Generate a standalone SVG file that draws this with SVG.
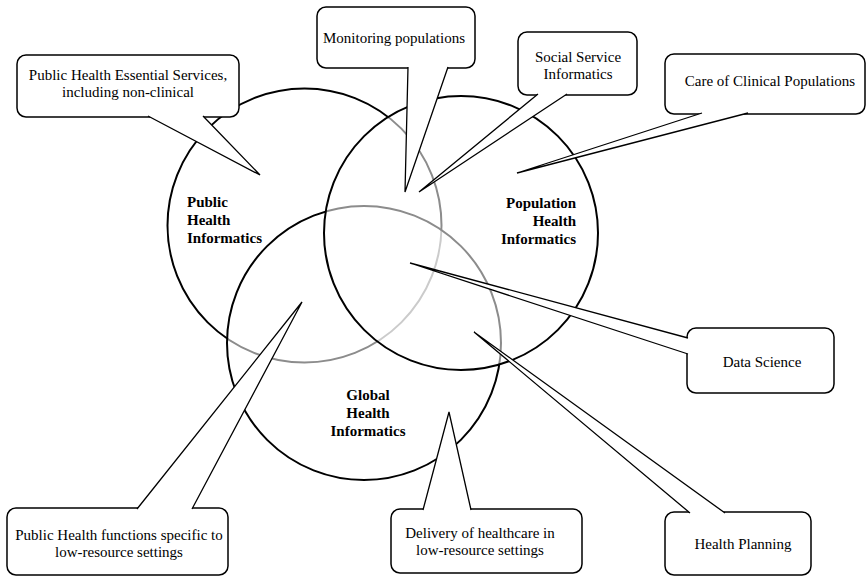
<svg xmlns="http://www.w3.org/2000/svg" width="867" height="576" viewBox="0 0 867 576">
<style>
.circ{fill:#fff;fill-opacity:0.55;stroke:#000;stroke-width:2}
.box{fill:#fff;stroke:#000;stroke-width:1.5}
.tail{fill:#fff;stroke:#000;stroke-width:1.3;stroke-linejoin:miter}
.lbl{font-family:"Liberation Serif","Times New Roman",serif;font-size:15px;font-weight:bold;fill:#000}
.txt{font-family:"Liberation Serif","Times New Roman",serif;font-size:15px;fill:#000;text-anchor:middle}
</style>
<rect width="867" height="576" fill="#fff"/>
<g id="public-health">
<circle class="circ" cx="304.5" cy="225.5" r="137"/>
<text class="lbl" x="187" y="207">Public</text>
<text class="lbl" x="187" y="225">Health</text>
<text class="lbl" x="187" y="243">Informatics</text>
</g>
<g id="global-health">
<circle class="circ" cx="364" cy="343" r="137"/>
<text class="lbl" x="368" y="400" text-anchor="middle">Global</text>
<text class="lbl" x="368" y="418" text-anchor="middle">Health</text>
<text class="lbl" x="368" y="436" text-anchor="middle">Informatics</text>
</g>
<g id="population-health">
<circle class="circ" cx="461" cy="233" r="137"/>
<text class="lbl" x="576" y="208" text-anchor="end">Population</text>
<text class="lbl" x="576" y="226" text-anchor="end">Health</text>
<text class="lbl" x="576" y="244" text-anchor="end">Informatics</text>
</g>
<g id="essential-services">
<rect class="box" x="17" y="55" width="222" height="62" rx="9"/>
<text class="txt" x="128" y="80">Public Health Essential Services,</text>
<text class="txt" x="128" y="97">including non-clinical</text>
</g>
<g id="monitoring">
<rect class="box" x="317" y="7" width="158" height="61" rx="9"/>
<text class="txt" x="394" y="43">Monitoring populations</text>
</g>
<g id="social-service">
<rect class="box" x="518" y="32" width="119" height="63" rx="9"/>
<text class="txt" x="578" y="62">Social Service</text>
<text class="txt" x="578" y="79">Informatics</text>
</g>
<g id="clinical-populations">
<rect class="box" x="665" y="54" width="200" height="60" rx="9"/>
<text class="txt" x="770" y="86">Care of Clinical Populations</text>
</g>
<g id="data-science">
<rect class="box" x="687" y="328" width="147" height="65" rx="9"/>
<text class="txt" x="762" y="367">Data Science</text>
</g>
<g id="health-planning">
<rect class="box" x="665" y="512" width="146" height="63" rx="9"/>
<text class="txt" x="743" y="549">Health Planning</text>
</g>
<g id="delivery">
<rect class="box" x="391" y="509" width="191" height="64" rx="9"/>
<text class="txt" x="480" y="538">Delivery of healthcare in</text>
<text class="txt" x="480" y="555">low-resource settings</text>
</g>
<g id="ph-functions">
<rect class="box" x="7" y="508" width="221" height="67" rx="9"/>
<text class="txt" x="119" y="540">Public Health functions specific to</text>
<text class="txt" x="119" y="557">low-resource settings</text>
</g>
<g id="connectors">
<path class="tail" d="M148,116 L260,175 L203,116"/>
<path class="tail" d="M408,67 L405,192 L448,67"/>
<path class="tail" d="M538,94 L419,192 L567,94"/>
<path class="tail" d="M702,113 L517,173 L748,113"/>
<path class="tail" d="M688,338 L410,263 L688,354"/>
<path class="tail" d="M690,513 L474,332 L725,513"/>
<path class="tail" d="M423,510 L449,412 L471,510"/>
<path class="tail" d="M137,509 L302,302 L192,509"/>
</g>
</svg>
